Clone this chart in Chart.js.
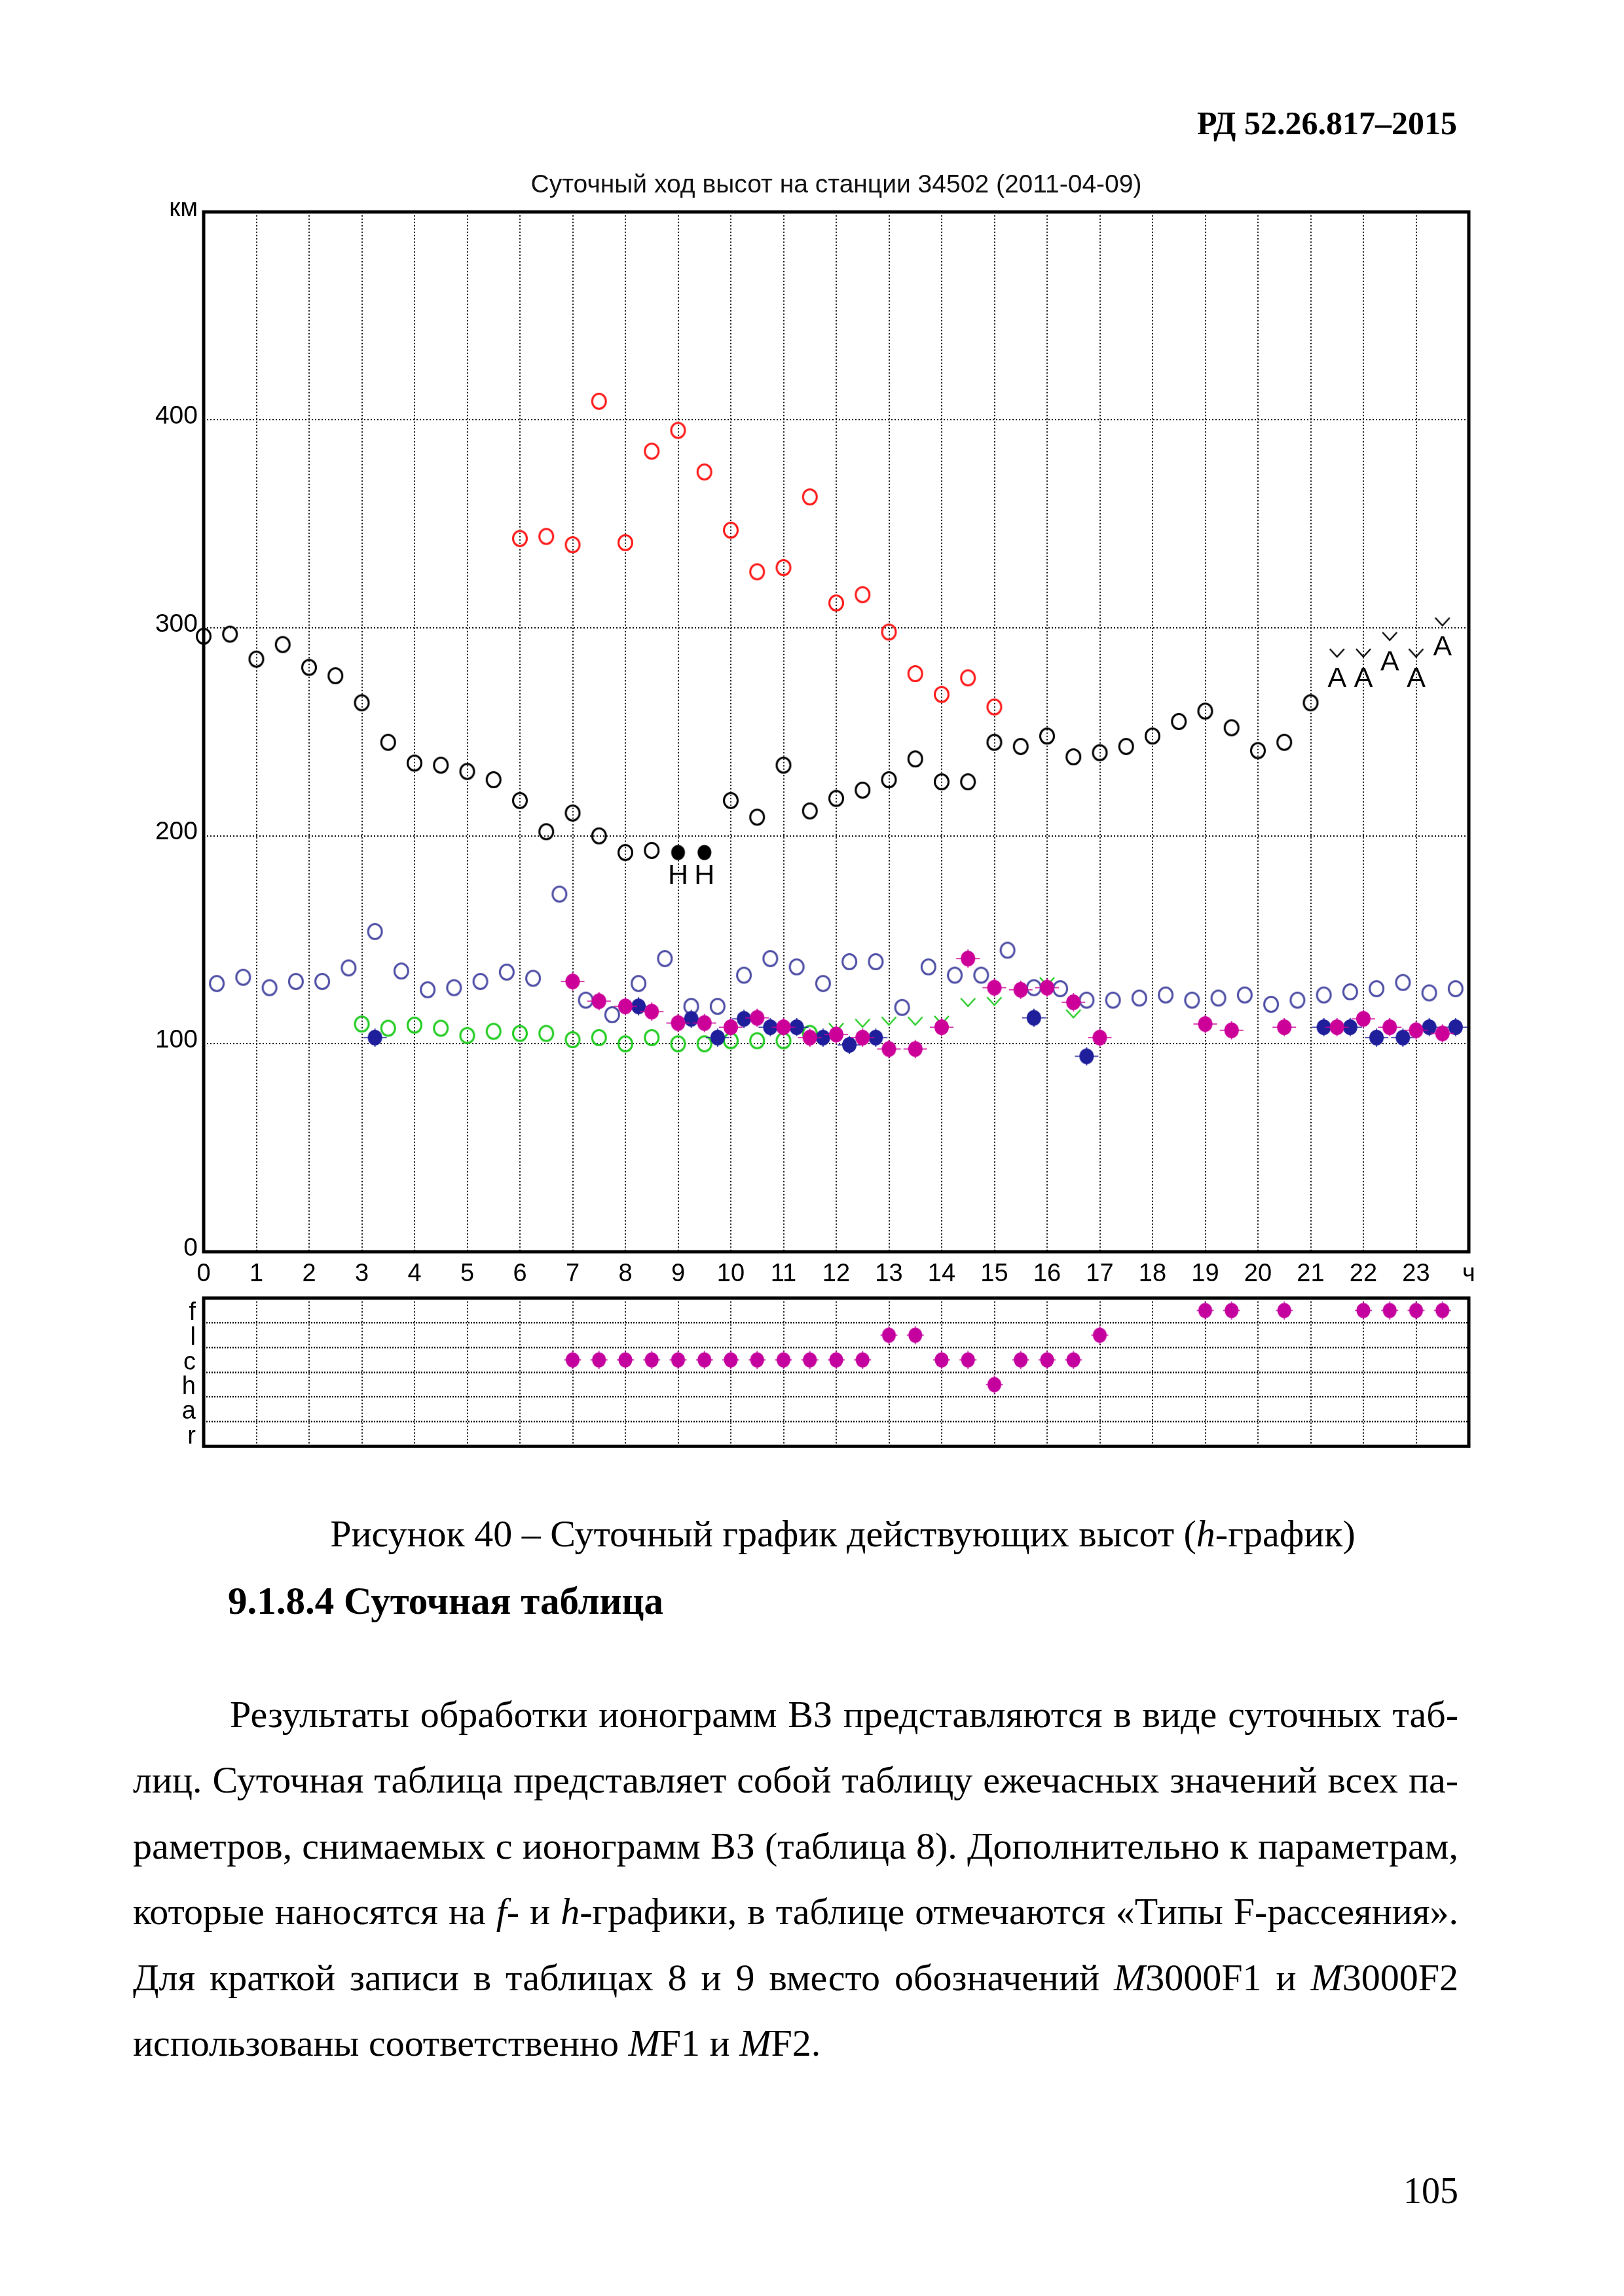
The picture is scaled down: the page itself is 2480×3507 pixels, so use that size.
<!DOCTYPE html>
<html lang="ru">
<head>
<meta charset="utf-8">
<title>Рисунок 40 – Суточный график действующих высот</title>
<script src="https://cdn.jsdelivr.net/npm/chart.js@4.4.1/dist/chart.umd.min.js"></script>
<style>
html,body{margin:0;padding:0;background:#fff;}
body{width:2480px;height:3507px;position:relative;overflow:hidden;font-family:"Liberation Serif","Times New Roman",serif;color:#000;}
.t{position:absolute;white-space:nowrap;line-height:1;}
.j{position:absolute;line-height:1;white-space:nowrap;text-align:justify;text-align-last:justify;font-size:58px;}
.box{position:absolute;}
</style>
</head>
<body>
<div class="t" style="right:255px;top:163px;font-size:50px;font-weight:bold">РД 52.26.817–2015</div>

<div class="box" style="left:180px;top:240px;width:2194px;height:1732px"><canvas id="mainChart"></canvas></div>
<div class="box" style="left:180px;top:1948px;width:2194px;height:296px"><canvas id="esChart"></canvas></div>

<div class="t" style="left:287px;width:2000px;text-align:center;top:2314px;font-size:58px">Рисунок 40 – Суточный график действующих высот (<i>h</i>-график)</div>
<div class="t" style="left:348px;top:2416px;font-size:59px;font-weight:bold">9.1.8.4 Суточная таблица</div>

<div class="j" style="left:351px;width:1876px;top:2590px">Результаты обработки ионограмм ВЗ представляются в виде суточных таб-</div>
<div class="j" style="left:203px;width:2024px;top:2690px">лиц. Суточная таблица представляет собой таблицу ежечасных значений всех па-</div>
<div class="j" style="left:203px;width:2024px;top:2791px">раметров, снимаемых с ионограмм ВЗ (таблица 8). Дополнительно к параметрам,</div>
<div class="j" style="left:203px;width:2024px;top:2891px">которые наносятся на <i>f</i>- и <i>h</i>-графики, в таблице отмечаются «Типы F-рассеяния».</div>
<div class="j" style="left:203px;width:2024px;top:2992px">Для краткой записи в таблицах 8 и 9 вместо обозначений <i>M</i>3000F1 и <i>M</i>3000F2</div>
<div class="t" style="left:203px;top:3092px;font-size:58px">использованы соответственно <i>M</i>F1 и <i>M</i>F2.</div>

<div class="t" style="right:253px;top:3318px;font-size:56px">105</div>

<script>
// ---------- data ----------
const chartTitle = 'Суточный ход высот на станции 34502 (2011-04-09)';
const yUnitLabel = 'км';
const xUnitLabel = 'ч';
const esRows = ['f', 'l', 'c', 'h', 'a', 'r'];

// black open circles
const blackRingT = [0,0.5,1,1.5,2,2.5,3,3.5,4,4.5,5,5.5,6,6.5,7,7.5,8,8.5,10,10.5,11,11.5,12,12.5,13,13.5,14,14.5,15,15.5,16,16.5,17,17.5,18,18.5,19,19.5,20,20.5,21];
const blackRingV = [296,297,285,292,281,277,264,245,235,234,231,227,217,202,211,200,192,193,217,209,234,212,218,222,227,237,226,226,245,243,248,238,240,243,248,255,260,252,241,245,264];
// black filled dots with "H"
const blackDotT = [9, 9.5];
const blackDotV = [192, 192];
const blackDotText = ['H', 'H'];
// black chevrons with "A"
const blackChevT = [21.5, 22, 22.5, 23, 23.5];
const blackChevV = [288, 288, 296, 288, 303];
const blackChevText = ['A', 'A', 'A', 'A', 'A'];
// red open circles
const redRingT = [6,6.5,7,7.5,8,8.5,9,9.5,10,10.5,11,11.5,12,12.5,13,13.5,14,14.5,15];
const redRingV = [343,344,340,409,341,385,395,375,347,327,329,363,312,316,298,278,268,276,262];
// blue open circles
const blueRingT = [0.25,0.75,1.25,1.75,2.25,2.75,3.25,3.75,4.25,4.75,5.25,5.75,6.25,6.75,7.25,7.75,8.25,8.75,9.25,9.75,10.25,10.75,11.25,11.75,12.25,12.75,13.25,13.75,14.25,14.75,15.25,15.75,16.25,16.75,17.25,17.75,18.25,18.75,19.25,19.75,20.25,20.75,21.25,21.75,22.25,22.75,23.25,23.75];
const blueRingV = [129,132,127,130,130,136.5,154,135,126,127,130,134.5,131.5,172,121,114,129,141,118,118,133,141,137,129,139.5,139.5,117.5,137,133,133,145,127,126.5,121,121,122,123.5,121,122,123.5,119,121,123.5,125,126.5,129.5,124.5,126.5];
// green open circles
const greenRingT = [3,3.5,4,4.5,5,5.5,6,6.5,7,7.5,8,8.5,9,9.5,10,10.5,11,11.5];
const greenRingV = [109.5,107.5,109,107.5,104,106,105,105,102,103,100,103,100,100,101.5,101.5,101.5,105];
// green chevrons
const greenChevT = [12,12.5,13,13.5,14,14.5,15,16,16.5];
const greenChevV = [108,110,111,111,111.5,120,120.5,130,114.5];
// magenta filled
const magentaT = [7,7.5,8,8.5,9,9.5,10,10.5,11,11.5,12,12.5,13,13.5,14,14.5,15,15.5,16,16.5,17,19,19.5,20.5,21.5,22,22.5,23,23.5];
const magentaV = [130,120.5,118,115.5,110,110,108,112.5,108,103,104.5,103,97.5,97.5,108,141,127,126,127,120,103,109.5,106.5,108,108,112,108,106.5,105];
// dark blue filled
const navyT = [3.25,8.25,9.25,9.75,10.25,10.75,11.25,11.75,12.25,12.75,15.75,16.75,21.25,21.75,22.25,22.75,23.25,23.75];
const navyV = [103,118,112,103,112,108,108,103,99.5,103,112.5,94,108,108,103,103,108,108];
// Es types (lower panel)
const esFT = [19,19.5,20.5,22,22.5,23,23.5];
const esLT = [13,13.5,17];
const esCT = [7,7.5,8,8.5,9,9.5,10,10.5,11,11.5,12,12.5,14,14.5,15.5,16,16.5];
const esHT = [15];

// ---------- helpers ----------
function pts(xs, ys) { return xs.map((x, i) => ({x: x, y: ys[i]})); }
function rowPts(xs, row) { return xs.map(x => ({x: x, y: row})); }

function marker(kind, color) {
  const s = 48;
  const c = document.createElement('canvas');
  c.width = s; c.height = s;
  const g = c.getContext('2d');
  g.translate(s / 2, s / 2);
  g.strokeStyle = color; g.fillStyle = color;
  if (kind === 'ring') {
    g.lineWidth = 3;
    g.beginPath(); g.ellipse(0, 0, 10.5, 11.5, 0, 0, Math.PI * 2); g.stroke();
  } else if (kind === 'disc') {
    g.lineWidth = 1.6;
    g.beginPath(); g.moveTo(-18, 0); g.lineTo(18, 0); g.moveTo(0, -14); g.lineTo(0, 14); g.stroke();
    g.beginPath(); g.ellipse(0, 0, 11, 12, 0, 0, Math.PI * 2); g.fill();
  } else if (kind === 'dot') {
    g.beginPath(); g.ellipse(0, 0, 10.5, 11.5, 0, 0, Math.PI * 2); g.fill();
    g.lineWidth = 1.4;
    g.beginPath(); g.moveTo(-13, 0); g.lineTo(13, 0); g.moveTo(0, -14); g.lineTo(0, 14); g.stroke();
  } else if (kind === 'chev') {
    g.lineWidth = 2.4;
    g.beginPath(); g.moveTo(-11, -6); g.lineTo(0, 6); g.lineTo(11, -6); g.stroke();
  } else if (kind === 'blackdot') {
    g.beginPath(); g.ellipse(0, 0, 10.5, 11.5, 0, 0, Math.PI * 2); g.fill();
  }
  return c;
}

const COL = {
  black: '#000000', red: '#ff1a1a', blueRing: '#4f4fa6', green: '#22cc22',
  magenta: '#cc0099', navy: '#1f1f9c', es: '#c4009e'
};

function ds(label, data, style, extra) {
  return Object.assign({
    label: label, data: data, showLine: false, pointStyle: style,
    pointRadius: 11, pointHoverRadius: 11, clip: false
  }, extra || {});
}

const framePlugin = {
  id: 'frame',
  afterDraw(chart, args, opts) {
    const a = chart.chartArea, ctx = chart.ctx;
    ctx.save();
    ctx.lineWidth = opts.width || 5;
    ctx.strokeStyle = '#000';
    ctx.strokeRect(a.left, a.top, a.right - a.left, a.bottom - a.top);
    ctx.restore();
  }
};

const pointTextPlugin = {
  id: 'pointText',
  afterDatasetsDraw(chart, args, opts) {
    const ctx = chart.ctx;
    chart.data.datasets.forEach((d, i) => {
      if (!d.pointText) return;
      const meta = chart.getDatasetMeta(i);
      ctx.save();
      ctx.font = opts.font;
      ctx.fillStyle = '#000';
      ctx.textAlign = 'center';
      ctx.textBaseline = 'middle';
      meta.data.forEach((el, j) => ctx.fillText(d.pointText[j], el.x, el.y + d.pointTextOffset));
      ctx.restore();
    });
  }
};

const sans = 'Liberation Sans';
const gridDash = [2, 3];
const gridColor = '#111';

// ---------- main chart ----------
new Chart(document.getElementById('mainChart'), {
  type: 'scatter',
  data: {
    datasets: [
      ds('hF black', pts(blackDotT, blackDotV), marker('blackdot', COL.black), {pointText: blackDotText, pointTextOffset: 36}),
      ds('lower limit', pts(blackChevT, blackChevV), marker('chev', COL.black), {pointText: blackChevText, pointTextOffset: 40}),
      ds('magenta', pts(magentaT, magentaV), marker('disc', COL.magenta)),
      ds('navy', pts(navyT, navyV), marker('disc', COL.navy)),
      ds('green v', pts(greenChevT, greenChevV), marker('chev', COL.green)),
      ds('green', pts(greenRingT, greenRingV), marker('ring', COL.green)),
      ds('blue', pts(blueRingT, blueRingV), marker('ring', COL.blueRing)),
      ds('red', pts(redRingT, redRingV), marker('ring', COL.red)),
      ds('black', pts(blackRingT, blackRingV), marker('ring', COL.black))
    ]
  },
  options: {
    responsive: true, maintainAspectRatio: false, animation: false, devicePixelRatio: 1,
    events: [],
    layout: {padding: {left: 0, right: 131, top: 0, bottom: 0}},
    plugins: {
      legend: {display: false},
      tooltip: {enabled: false},
      title: {
        display: true, text: chartTitle, fullSize: false, color: '#111',
        font: {family: sans, size: 39, weight: 'normal'},
        padding: {top: 20, bottom: 17}
      },
      frame: {width: 5},
      pointText: {font: '43px "Liberation Sans"'}
    },
    scales: {
      x: {
        type: 'linear', min: 0, max: 24,
        afterFit: s => { s.height = 60; },
        ticks: {
          stepSize: 1, autoSkip: false, maxRotation: 0, padding: 12, color: '#000',
          font: {family: sans, size: 38},
          callback: v => (v === 24 ? xUnitLabel : v)
        },
        grid: {color: gridColor, lineWidth: 2, drawTicks: false},
        border: {display: false, dash: gridDash}
      },
      y: {
        type: 'linear', min: 0, max: 500,
        afterFit: s => { s.width = 131; },
        ticks: {
          stepSize: 100, padding: 9, color: '#000', labelOffset: -5,
          font: {family: sans, size: 39},
          callback: v => (v === 500 ? yUnitLabel : v)
        },
        grid: {color: gridColor, lineWidth: 2, drawTicks: false},
        border: {display: false, dash: gridDash}
      }
    }
  },
  plugins: [framePlugin, pointTextPlugin]
});

// ---------- Es types panel ----------
const esMarker = marker('dot', COL.es);
new Chart(document.getElementById('esChart'), {
  type: 'scatter',
  data: {
    datasets: [
      ds('f', rowPts(esFT, 'f'), esMarker),
      ds('l', rowPts(esLT, 'l'), esMarker),
      ds('c', rowPts(esCT, 'c'), esMarker),
      ds('h', rowPts(esHT, 'h'), esMarker)
    ]
  },
  options: {
    responsive: true, maintainAspectRatio: false, animation: false, devicePixelRatio: 1,
    events: [],
    layout: {padding: {left: 0, right: 131, top: 0, bottom: 0}},
    plugins: {legend: {display: false}, tooltip: {enabled: false}, frame: {width: 5}},
    scales: {
      x: {
        type: 'linear', min: 0, max: 24,
        afterFit: s => { s.height = 0; },
        ticks: {stepSize: 1, display: false, autoSkip: false},
        grid: {color: gridColor, lineWidth: 2, drawTicks: false},
        border: {display: false, dash: gridDash}
      },
      y: {
        type: 'category', labels: esRows, offset: true,
        afterFit: s => { s.width = 131; },
        ticks: {padding: 12, autoSkip: false, labelOffset: 4, color: '#000', font: {family: sans, size: 38}},
        grid: {color: '#111', lineWidth: 2.5, drawTicks: false, offset: true},
        border: {display: false, dash: [2, 2]}
      }
    }
  },
  plugins: [framePlugin]
});
</script>
</body>
</html>
